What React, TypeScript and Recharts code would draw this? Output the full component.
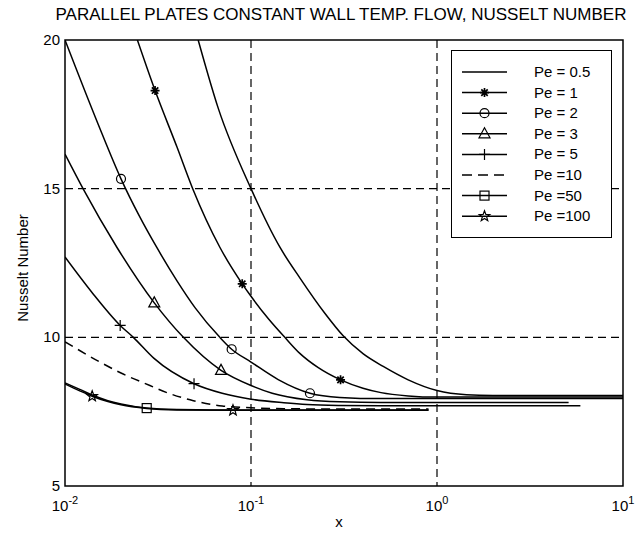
import {
  ComposedChart, Line, Scatter, XAxis, YAxis, CartesianGrid, ReferenceArea, Legend,
} from 'recharts';

const FONT = '"Liberation Sans", Arial, Helvetica, sans-serif';

const xTicks = [0.01, 0.1, 1, 10];
const yTicks = [5, 10, 15, 20];

// Pe = 0.5
const pe05X = [0.052, 0.0667, 0.1, 0.143, 0.183, 0.25, 0.313, 0.4, 0.514, 0.7, 1, 1.44, 2, 5, 10];
const pe05Nu = [20, 17.7, 15, 13.03, 12.0, 10.8, 10.05, 9.45, 9.02, 8.57, 8.21, 8.07, 8.045, 8.04, 8.04];

// Pe = 1
const pe1X = [0.0245, 0.0305, 0.04, 0.0486, 0.068, 0.0897, 0.1, 0.125, 0.152, 0.183, 0.23, 0.303, 0.4, 0.5, 0.7, 1, 2, 5, 10];
const pe1Nu = [20, 18.3, 16.4, 15.0, 13.03, 11.8, 11.38, 10.6, 10.0, 9.46, 8.98, 8.57, 8.29, 8.14, 8.03, 7.99, 7.99, 7.99, 7.99];
const pe1Marks = [0.0305, 0.0897, 0.303];

// Pe = 2
const pe2X = [0.01, 0.015, 0.02, 0.025, 0.0311, 0.04, 0.05, 0.068, 0.0787, 0.1, 0.14, 0.2075, 0.3, 0.5, 1, 2, 5, 10];
const pe2Nu = [20, 17.2, 15.33, 14.1, 13.03, 11.9, 11.0, 10.0, 9.6, 9.17, 8.58, 8.12, 7.98, 7.94, 7.94, 7.94, 7.94, 7.94];
const pe2Marks = [0.02, 0.0787, 0.2075];

// Pe = 3
const pe3X = [0.01, 0.0125, 0.019, 0.0302, 0.0433, 0.069, 0.1, 0.13, 0.2, 0.3, 0.5, 1, 2, 5.1];
const pe3Nu = [16.16, 15.0, 13.03, 11.16, 10.0, 8.89, 8.38, 8.12, 7.9, 7.83, 7.81, 7.81, 7.81, 7.81];
const pe3Marks = [0.0302, 0.069];

// Pe = 5
const pe5X = [0.01, 0.014, 0.0198, 0.0233, 0.03, 0.0494, 0.07, 0.1, 0.15, 0.2, 0.3, 0.5, 1, 2, 5.9];
const pe5Nu = [12.7, 11.5, 10.4, 10.0, 9.3, 8.44, 8.12, 7.92, 7.8, 7.74, 7.71, 7.7, 7.7, 7.7, 7.7];
const pe5Marks = [0.0198, 0.0494];

// Pe = 10
const pe10X = [0.01, 0.0154, 0.02, 0.0286, 0.035, 0.049, 0.07, 0.1, 0.15, 0.3, 0.9];
const pe10Nu = [9.85, 9.17, 8.8, 8.38, 8.15, 7.87, 7.69, 7.63, 7.6, 7.59, 7.59];

// Pe = 50
const pe50X = [0.01, 0.012, 0.014, 0.017, 0.02, 0.0275, 0.04, 0.06, 0.1, 0.3, 0.9];
const pe50Nu = [8.47, 8.25, 8.06, 7.87, 7.76, 7.62, 7.57, 7.56, 7.555, 7.555, 7.555];
const pe50Marks = [0.0275];

// Pe = 100
const pe100X = [0.01, 0.012, 0.014, 0.017, 0.02, 0.0275, 0.04, 0.08, 0.3, 0.9];
const pe100Nu = [8.43, 8.2, 8.02, 7.84, 7.73, 7.61, 7.56, 7.545, 7.545, 7.545];
const pe100Marks = [0.014, 0.08];

const toPoints = (xs: number[], ys: number[]) => xs.map((x, i) => ({ x, nu: ys[i] }));
const pickMarks = (xs: number[], ys: number[], marks: number[]) =>
  marks.map((m) => ({ x: m, nu: ys[xs.indexOf(m)] }));

const series = [
  { name: 'Pe = 0.5', xs: pe05X, ys: pe05Nu, marks: [] as number[], marker: '', dashed: false },
  { name: 'Pe = 1', xs: pe1X, ys: pe1Nu, marks: pe1Marks, marker: 'asterisk', dashed: false },
  { name: 'Pe = 2', xs: pe2X, ys: pe2Nu, marks: pe2Marks, marker: 'circle', dashed: false },
  { name: 'Pe = 3', xs: pe3X, ys: pe3Nu, marks: pe3Marks, marker: 'triangle', dashed: false },
  { name: 'Pe = 5', xs: pe5X, ys: pe5Nu, marks: pe5Marks, marker: 'plus', dashed: false },
  { name: 'Pe =10', xs: pe10X, ys: pe10Nu, marks: [] as number[], marker: '', dashed: true },
  { name: 'Pe =50', xs: pe50X, ys: pe50Nu, marks: pe50Marks, marker: 'square', dashed: false },
  { name: 'Pe =100', xs: pe100X, ys: pe100Nu, marks: pe100Marks, marker: 'pentagram', dashed: false },
];

function Marker({ kind, cx, cy }: { kind: string; cx: number; cy: number }) {
  const s = { fill: 'none', stroke: '#000', strokeWidth: 1.2 };
  if (kind === 'asterisk') {
    return (
      <path
        d={`M${cx - 4.5},${cy}h9M${cx},${cy - 4.5}v9M${cx - 3.2},${cy - 3.2}l6.4,6.4M${cx - 3.2},${cy + 3.2}l6.4,-6.4`}
        {...s}
        strokeWidth={1.7}
      />
    );
  }
  if (kind === 'circle') return <circle cx={cx} cy={cy} r={4.5} {...s} />;
  if (kind === 'triangle') {
    return <path d={`M${cx},${cy - 6}L${cx + 5.5},${cy + 4}L${cx - 5.5},${cy + 4}Z`} {...s} />;
  }
  if (kind === 'plus') return <path d={`M${cx - 5.5},${cy}h11M${cx},${cy - 5.5}v11`} {...s} />;
  if (kind === 'square') return <rect x={cx - 4.5} y={cy - 4.5} width={9} height={9} {...s} />;
  if (kind === 'pentagram') {
    const pts = [];
    for (let k = 0; k < 10; k++) {
      const r = k % 2 === 0 ? 5.5 : 2.3;
      const a = -Math.PI / 2 + (k * Math.PI) / 5;
      pts.push(`${cx + r * Math.cos(a)},${cy + r * Math.sin(a)}`);
    }
    return <polygon points={pts.join(' ')} {...s} />;
  }
  return null;
}

function XTick({ x, y, payload }: any) {
  const exp = Math.round(Math.log10(payload.value));
  return (
    <text x={x} y={y + 25} textAnchor="middle" fontSize={15} fontFamily={FONT} fill="#000">
      10<tspan dy={-7} fontSize={11}>{exp}</tspan>
    </text>
  );
}

function YTick({ x, y, payload }: any) {
  return (
    <text x={x - 5} y={y + 5} textAnchor="end" fontSize={15} fontFamily={FONT} fill="#000">
      {payload.value}
    </text>
  );
}

function LegendBox() {
  return (
    <svg width={161} height={188} style={{ display: 'block' }}>
      <rect x={0.5} y={0.5} width={160} height={187} fill="#fff" stroke="#000" />
      {series.map((s, i) => {
        const cy = 22 + i * 20.6;
        return (
          <g key={s.name}>
            <line
              x1={11}
              x2={56}
              y1={cy}
              y2={cy}
              stroke="#000"
              strokeWidth={1.5}
              strokeDasharray={s.dashed ? '10 6' : undefined}
            />
            {s.marker && <Marker kind={s.marker} cx={33.5} cy={cy} />}
            <text x={83} y={cy + 5} fontSize={15} fontFamily={FONT} fill="#000">
              {s.name}
            </text>
          </g>
        );
      })}
    </svg>
  );
}

export default function App() {
  return (
    <div style={{ position: 'absolute', left: 0, top: 0, width: 636, height: 535, background: '#fff' }}>
      <ComposedChart width={636} height={535} margin={{ top: 40, right: 13, bottom: 0, left: 0 }}>
        <CartesianGrid
          stroke="#000"
          strokeWidth={1.2}
          strokeDasharray="8 5"
          horizontalValues={[10, 15]}
          verticalValues={[0.1, 1]}
        />
        <XAxis
          dataKey="x"
          type="number"
          scale="log"
          domain={[0.01, 10]}
          ticks={xTicks}
          allowDataOverflow
          axisLine={false}
          tickLine={false}
          tickSize={0}
          tickMargin={0}
          height={49}
          tick={<XTick />}
        />
        <YAxis
          type="number"
          domain={[5, 20]}
          ticks={yTicks}
          allowDataOverflow
          axisLine={false}
          tickLine={false}
          tickSize={0}
          tickMargin={0}
          width={65}
          tick={<YTick />}
        />
        {series.map((s) => (
          <Line
            key={s.name}
            data={toPoints(s.xs, s.ys)}
            dataKey="nu"
            name={s.name}
            type="monotone"
            stroke="#000"
            strokeWidth={1.5}
            strokeDasharray={s.dashed ? '9 6' : undefined}
            dot={false}
            activeDot={false}
            isAnimationActive={false}
          />
        ))}
        {series
          .filter((s) => s.marks.length > 0)
          .map((s) => (
            <Scatter
              key={s.name + '-marks'}
              data={pickMarks(s.xs, s.ys, s.marks)}
              dataKey="nu"
              legendType="none"
              isAnimationActive={false}
              shape={(p: any) => <Marker kind={s.marker} cx={p.cx} cy={p.cy} />}
            />
          ))}
        <ReferenceArea x1={0.01} x2={10} y1={5} y2={20} fill="none" stroke="#000" strokeWidth={1.5} />
        <Legend
          layout="horizontal"
          verticalAlign="middle"
          align="center"
          content={() => <LegendBox />}
          wrapperStyle={{ left: 451, top: 50, width: 161, height: 188 }}
        />
        <text x={341} y={20} textAnchor="middle" fontSize={17} fontFamily={FONT} fill="#000">
          PARALLEL PLATES CONSTANT WALL TEMP. FLOW, NUSSELT NUMBER
        </text>
        <text
          transform="translate(22,268) rotate(-90)"
          textAnchor="middle"
          dominantBaseline="central"
          fontSize={15}
          fontFamily={FONT}
          fill="#000"
        >
          Nusselt Number
        </text>
        <text x={339} y={527} textAnchor="middle" fontSize={15} fontFamily={FONT} fill="#000">
          x
        </text>
      </ComposedChart>
    </div>
  );
}
